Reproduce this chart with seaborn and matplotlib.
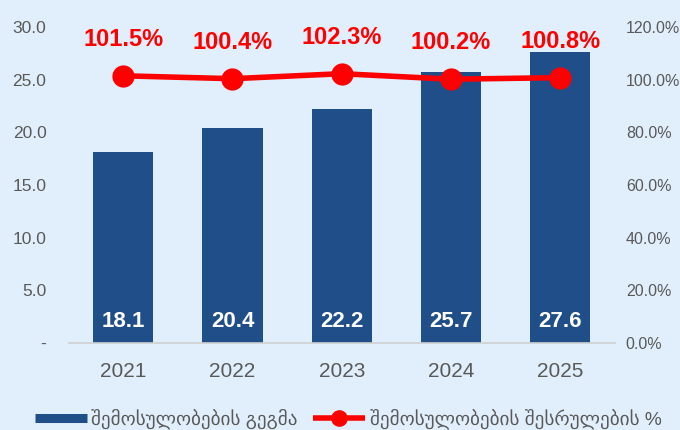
import matplotlib
matplotlib.use("Agg")
import matplotlib.pyplot as plt
import seaborn as sns
import pandas as pd
from matplotlib.lines import Line2D

years = ["2021", "2022", "2023", "2024", "2025"]
plan = [18.1, 20.4, 22.2, 25.7, 27.6]
execution = [101.5, 100.4, 102.3, 100.2, 100.8]
left_ticks = [0, 5, 10, 15, 20, 25, 30]
left_labels = ["-", "5.0", "10.0", "15.0", "20.0", "25.0", "30.0"]
right_ticks = [0, 20, 40, 60, 80, 100, 120]
bar_name = "შემოსულობების გეგმა"
line_name = "შემოსულობების შესრულების %"

sns.set_theme(style="white")
plt.rcParams['font.family'] = ['Liberation Sans', 'DejaVu Sans']

bg = "#E1EFFC"
bar_color = "#1F4E89"
red = "#FF0000"
gray = "#595959"

df = pd.DataFrame({"year": years, "plan": plan, "exec": execution})

fig = plt.figure(figsize=(6.8, 4.3), dpi=100, facecolor=bg)
ax = fig.add_axes([0.101, 0.2023, 0.803, 0.7347])
ax.set_facecolor(bg)
sns.barplot(data=df, x="year", y="plan", color=bar_color, width=0.55, ax=ax,
            saturation=1, linewidth=0)
ax.set_ylim(0, 30)
ax.set_yticks(left_ticks)
ax.set_yticklabels(left_labels)
ax.set_xlabel("")
ax.set_ylabel("")
ax.tick_params(axis='y', colors=gray, labelsize=12.5, length=0, pad=16)
ax.tick_params(axis='x', colors=gray, labelsize=15, length=0, pad=14)
for s in ["top", "right", "left"]:
    ax.spines[s].set_visible(False)
ax.spines["bottom"].set_color("#D0D0D0")
ax.spines["bottom"].set_linewidth(1.2)
ax.set_xlim(-0.5, 4.5)

for i, v in enumerate(plan):
    ax.text(i, 2.0, f"{v:.1f}", ha="center", va="center", color="white",
            fontsize=16, fontweight="bold")

ax2 = ax.twinx()
ax2.set_ylim(0, 120)
ax2.set_yticks(right_ticks)
ax2.set_yticklabels([f"{t:.1f}%" for t in right_ticks])
ax2.tick_params(axis='y', colors=gray, labelsize=11.5, length=0, pad=8)
for s in ax2.spines.values():
    s.set_visible(False)
sns.lineplot(x=list(range(len(years))), y=execution, ax=ax2, color=red,
             linewidth=4, marker="o", markersize=16, markeredgewidth=0)
for i, v in enumerate(execution):
    ax2.text(i, v + 9.5, f"{v:.1f}%", ha="center", va="bottom", color=red,
             fontsize=17, fontweight="bold")

handles = [Line2D([0], [0], color=bar_color, linewidth=6.5, solid_capstyle="butt"),
           Line2D([0], [0], color=red, linewidth=4, marker="o", markersize=11,
                  solid_capstyle="butt")]
fig.legend(handles, [bar_name, line_name], loc="center", bbox_to_anchor=(0.512, 0.026),
           ncol=2, frameon=False, fontsize=13.8, handlelength=2.7, columnspacing=0.8,
           labelcolor=gray, handletextpad=0.25, borderpad=0, borderaxespad=0)

fig.savefig("out.png", dpi=100, facecolor=bg)
